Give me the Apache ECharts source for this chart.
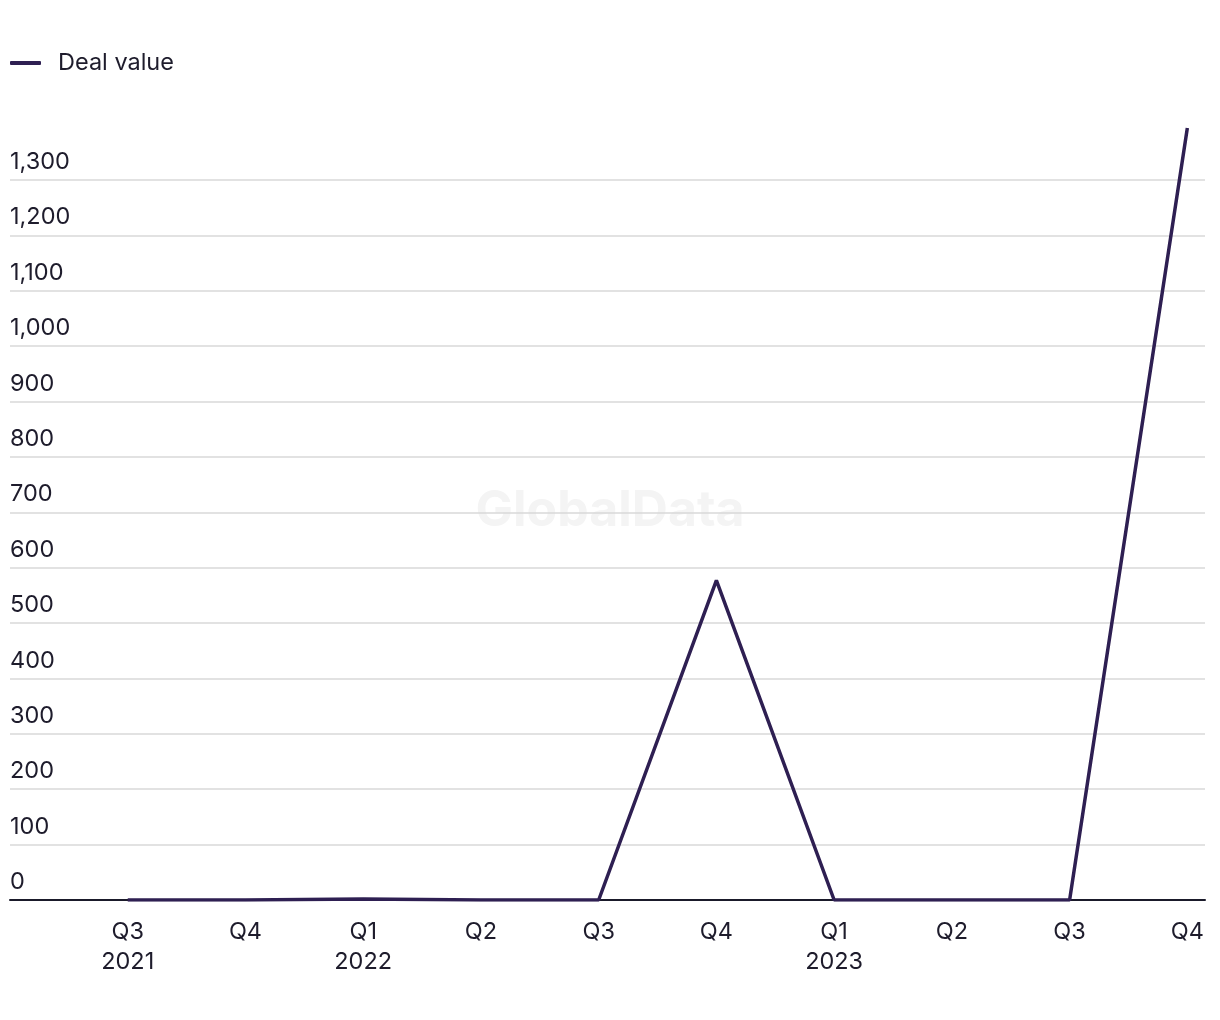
<!DOCTYPE html>
<html>
<head>
<meta charset="utf-8">
<style>
html,body{margin:0;padding:0;background:#fff;}
#chart{width:1220px;height:1020px;}
</style>
<script src="https://cdn.jsdelivr.net/npm/echarts@6/dist/echarts.min.js"></script>
</head>
<body>
<div id="chart"></div>
<script>
const quarters = ['Q3\n2021','Q4','Q1\n2022','Q2','Q3','Q4','Q1\n2023','Q2','Q3','Q4'];
const dealValue = [0, 0, 2, 0, 0, 577, 0, 0, 0, 1394];
const seriesName = 'Deal value';
const yMax = 1400, yStep = 100;

const chart = echarts.init(document.getElementById('chart'));
const textColor = '#1e1c2c';
const fontFamily = 'Inter, "Noto Sans", sans-serif';

chart.setOption({
  animation: false,
  backgroundColor: '#ffffff',
  legend: {
    left: 10, top: 51, padding: 0,
    icon: 'roundRect',
    itemWidth: 31, itemHeight: 4,
    itemGap: 20,
    textStyle: { color: textColor, fontSize: 23.5, fontFamily: fontFamily, padding: [0,0,0,12] },
    data: [seriesName]
  },
  graphic: [{
    type: 'text',
    left: 'center', top: 486,
    style: { text: 'GlobalData', fill: '#f4f4f4', font: 'bold 50px ' + fontFamily }
  }],
  grid: { left: 10, right: 15, top: 124.6, bottom: 120, containLabel: false },
  xAxis: {
    type: 'value',
    min: -1, max: 9.15, interval: 1,
    axisLine: { show: true, onZero: true, lineStyle: { color: '#1a1a2a', width: 2 } },
    axisTick: { show: false },
    splitLine: { show: false },
    axisLabel: {
      margin: 17,
      color: textColor, fontSize: 23.5, fontFamily: fontFamily, lineHeight: 30,
      showMinLabel: false, showMaxLabel: false,
      formatter: function (v) {
        const r = Math.round(v);
        return (Math.abs(v - r) < 1e-3 && r >= 0 && r < quarters.length) ? quarters[r] : '';
      }
    }
  },
  yAxis: {
    type: 'value',
    min: 0, max: yMax, interval: yStep,
    axisLine: { show: false },
    axisTick: { show: false },
    splitLine: { show: true, showMaxLine: false, lineStyle: { color: '#d9d9d9', width: 1.5 } },
    axisLabel: {
      inside: true, margin: 0,
      verticalAlign: 'bottom',
      padding: [0, 0, 6, 0],
      color: textColor, fontSize: 23.5, fontFamily: fontFamily,
      showMaxLabel: false,
      formatter: function (v) { return v.toLocaleString('en-US'); }
    }
  },
  series: [{
    name: seriesName,
    type: 'line',
    data: dealValue.map((v, i) => [i, v]),
    symbol: 'none',
    lineStyle: { color: '#2e1f52', width: 3.5 },
    itemStyle: { color: '#2e1f52' },
    z: 3
  }]
});
</script>
</body>
</html>
